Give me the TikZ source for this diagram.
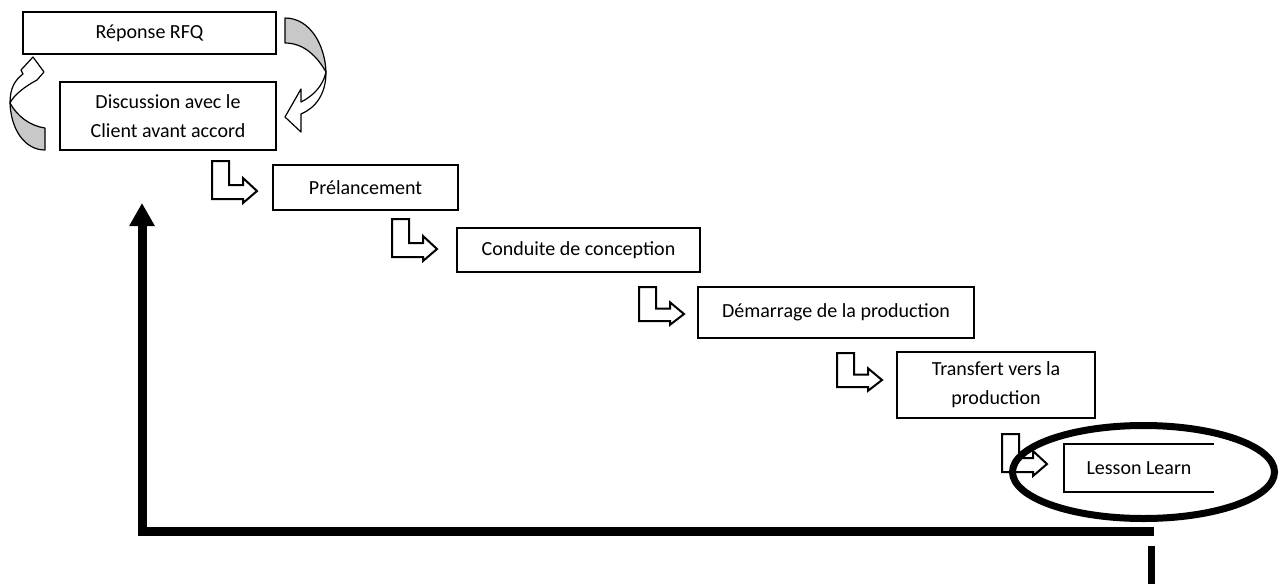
\documentclass[tikz,border=0pt]{standalone}
\usepackage{fontspec}
\setmainfont{Carlito}
\usetikzlibrary{arrows.meta,shapes.geometric}
\definecolor{curvegray}{RGB}{200,200,200}
\tikzset{
  stepbox/.style={draw, line width=2pt, fill=white, inner sep=0pt, align=center,
    font={\fontsize{20}{29}\selectfont}},
  bentshape/.style={draw, line width=2pt, fill=white, miter limit=10},
  curveshape/.style={draw, line width=1.2pt, line join=round},
  bigline/.style={line width=9pt, line join=miter},
  ringstyle/.style={draw, line width=7pt, ellipse, inner sep=0pt},
  pics/bentarrow/.style={code={
    \draw[bentshape] (0,0) -- (17,0) -- (17,24) -- (31,24) -- (31,17) -- (45,30)
      -- (31,42) -- (31,38) -- (0,38) -- cycle;}}
}
\begin{document}
\begin{tikzpicture}[x=1pt,y=-1pt]
\useasboundingbox (0,0) rectangle (1280,584);

% boxes
\node[stepbox, minimum width=253pt, minimum height=42pt] (rfq) at (149.5,33) {Réponse RFQ};
\node[stepbox, minimum width=216pt, minimum height=68pt] (disc) at (168,116) {Discussion avec le\\Client avant accord};
\node[stepbox, minimum width=185pt, minimum height=45pt] (prel) at (365.5,187.5) {Prélancement};
\node[stepbox, minimum width=243pt, minimum height=44pt] (conc) at (578.5,250) {Conduite de conception};
\node[stepbox, minimum width=276pt, minimum height=51pt] (dem) at (836,312.5) {Démarrage de la production};
\node[stepbox, minimum width=198pt, minimum height=66pt] (trans) at (996,385) {Transfert vers la\\production};
\node[stepbox, draw=none, fill=none, minimum width=148pt, minimum height=46pt] (lesson) at (1139,468) {Lesson Learn};
\draw[line width=2pt] (lesson.north east) -- (lesson.north west) -- (lesson.south west) -- (lesson.south east);

% curved arrows
\draw[curveshape, fill=curvegray] (285,18) .. controls (310,18) and (325,45) .. (326,72)
  .. controls (318,58) and (305,43) .. (285,43) -- cycle;
\draw[curveshape, fill=white] (326,72) .. controls (326,95) and (315,108) .. (301,114)
  -- (301,132) -- (285,117) -- (301,89) -- (301,102)
  .. controls (313,96) and (323,86) .. (326,72) -- cycle;

\draw[curveshape, fill=curvegray] (45,128) -- (45,150) .. controls (25,150) and (11,130) .. (10,103)
  .. controls (17,116) and (30,126) .. (45,128) -- cycle;
\draw[curveshape, fill=white] (10,103) .. controls (10,88) and (15,80) .. (23,74)
  -- (21,70) -- (33,57) -- (44,72) -- (37,80)
  .. controls (24,87) and (14,95) .. (10,103) -- cycle;

% bent arrows
\pic at (212,161) {bentarrow};
\pic at (392,219) {bentarrow};
\pic[yscale=0.9] at (639,287) {bentarrow};
\pic[yscale=0.9] at (837,353) {bentarrow};
\pic at (1002,434) {bentarrow};

% ellipse
\node[ringstyle, minimum width=262pt, minimum height=93pt] (ring) at (1143.5,472) {};

% feedback line
\coordinate (fbstart) at (1154,531);
\coordinate (fbcorner) at (142,531);
\coordinate (fbend) at (142,203);
\draw[bigline, -{Triangle[length=23pt,width=24pt]}] (fbstart) -- (fbcorner) -- (fbend);
\coordinate (tailtop) at (1151.5,546);
\coordinate (tailbot) at (1151.5,584);
\draw[line width=7pt] (tailtop) -- (tailbot);
\end{tikzpicture}
\end{document}
